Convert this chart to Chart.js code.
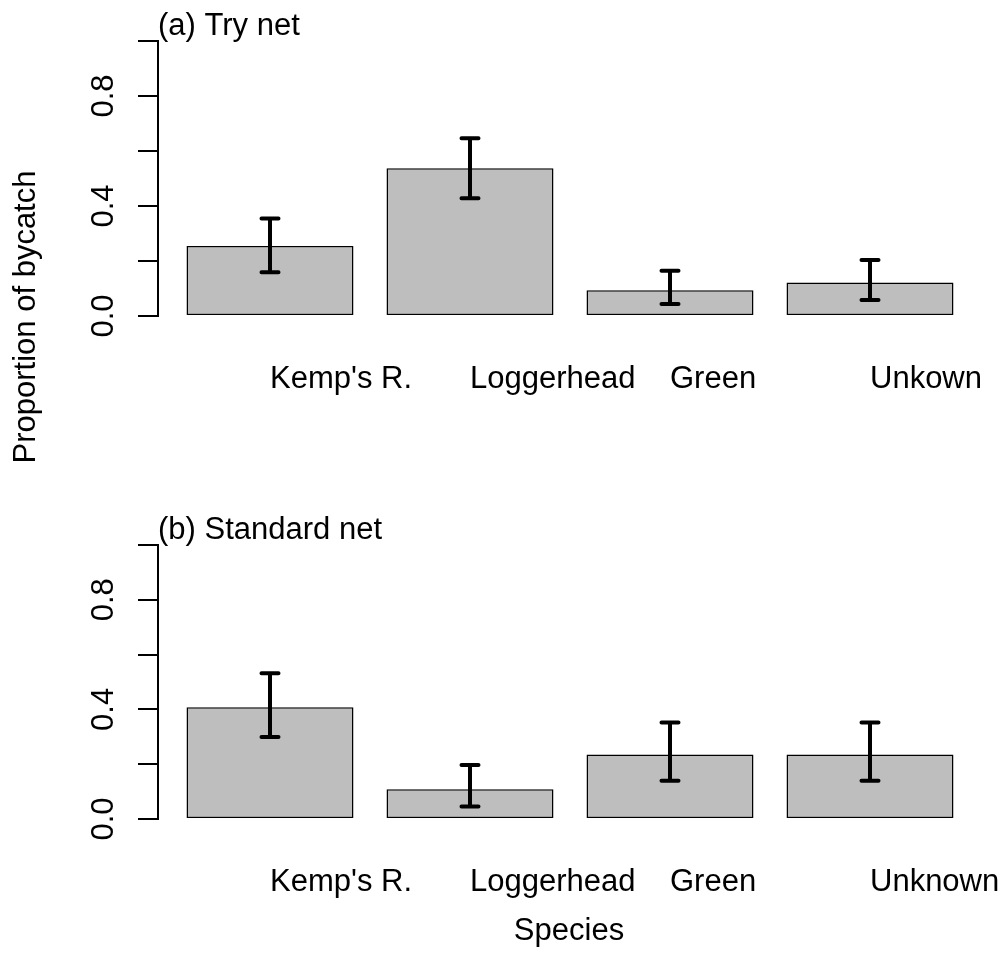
<!DOCTYPE html>
<html>
<head>
<meta charset="utf-8">
<title>Proportion of bycatch</title>
<script src="https://cdn.jsdelivr.net/npm/chart.js@4"></script>
<style>
body { margin: 0; background: #fff; }
#wrap { position: relative; width: 1002px; height: 979px; }
canvas { position: absolute; left: 0; }
#chart-try { top: 0; }
#chart-standard { top: 489px; }
</style>
</head>
<body>
<div id="wrap">
  <canvas id="chart-try" width="1002" height="490"></canvas>
  <canvas id="chart-standard" width="1002" height="490"></canvas>
</div>
<script>
// Data
const species_try = ["Kemp's R.", 'Loggerhead', 'Green', 'Unkown'];
const species_standard = ["Kemp's R.", 'Loggerhead', 'Green', 'Unknown'];

const try_prop = [0.255, 0.537, 0.094, 0.122];
const try_lower = [0.159, 0.428, 0.044, 0.058];
const try_upper = [0.355, 0.646, 0.165, 0.204];

const standard_prop = [0.408, 0.109, 0.235, 0.235];
const standard_lower = [0.299, 0.046, 0.140, 0.140];
const standard_upper = [0.532, 0.197, 0.352, 0.352];

const y_ticks = [0, 0.2, 0.4, 0.6, 0.8, 1.0];
const y_tick_labels = ['0.0', '', '0.4', '', '0.8', ''];

const font_name = '"Liberation Sans", Arial, Helvetica, sans-serif';
const text_size = 31;

// Error bars, drawn on top of the bars
function error_bars(lower, upper) {
    return {
        id: 'error_bars',
        afterDatasetsDraw(chart) {
            const ctx = chart.ctx;
            const x = chart.scales.x;
            const y = chart.scales.y;
            ctx.save();
            ctx.strokeStyle = '#000';
            ctx.lineWidth = 4;
            ctx.lineCap = 'round';
            for (var i = 0; i < lower.length; i++) {
                const px = x.getPixelForValue(i);
                const lo = y.getPixelForValue(lower[i]);
                const hi = y.getPixelForValue(upper[i]);
                ctx.beginPath();
                ctx.moveTo(px, lo);
                ctx.lineTo(px, hi);
                ctx.moveTo(px - 8.5, lo);
                ctx.lineTo(px + 8.5, lo);
                ctx.moveTo(px - 8.5, hi);
                ctx.lineTo(px + 8.5, hi);
                ctx.stroke();
            }
            ctx.restore();
        }
    };
}

// Panel title, species names, turned y tick labels (+ extra text)
function panel_text(title, names, extra) {
    return {
        id: 'panel_text',
        afterDraw(chart) {
            const ctx = chart.ctx;
            const area = chart.chartArea;
            const x = chart.scales.x;
            const y = chart.scales.y;
            ctx.save();
            ctx.fillStyle = '#000';
            ctx.font = text_size + 'px ' + font_name;
            ctx.textBaseline = 'alphabetic';

            ctx.textAlign = 'left';
            ctx.fillText(title, area.left, area.top - 6);

            // names start at the bar centre, like adj = 0
            names.forEach((name, i) => {
                ctx.fillText(name, x.getPixelForValue(i), area.bottom + 72);
            });

            ctx.textAlign = 'center';
            y_ticks.forEach((v, i) => {
                ctx.save();
                ctx.translate(area.left - 45, y.getPixelForValue(v));
                ctx.rotate(-Math.PI / 2);
                ctx.fillText(y_tick_labels[i], 0, 0);
                ctx.restore();
            });

            if (extra) extra(ctx);
            ctx.restore();
        }
    };
}

function make_chart(canvas_id, values, lower, upper, title, names, padding, extra) {
    return new Chart(document.getElementById(canvas_id), {
        type: 'bar',
        data: {
            datasets: [{
                data: values.map((v, i) => ({ x: i, y: v })),
                backgroundColor: '#bebebe',
                borderColor: '#000',
                borderWidth: 1.5,
                borderSkipped: false,
                barPercentage: 0.835,
                categoryPercentage: 1
            }]
        },
        options: {
            responsive: false,
            animation: false,
            devicePixelRatio: 1,
            layout: { padding: padding },
            plugins: {
                legend: { display: false },
                tooltip: { enabled: false }
            },
            scales: {
                x: {
                    type: 'linear',
                    min: -0.56,
                    max: 3.56,
                    offset: false,
                    display: false,
                    // one tick per species so the bar width follows the spacing
                    afterBuildTicks: function(scale) {
                        scale.ticks = names.map((n, i) => ({ value: i }));
                    }
                },
                y: {
                    min: 0,
                    max: 1,
                    afterBuildTicks: function(scale) {
                        scale.ticks = y_ticks.map(v => ({ value: v }));
                    },
                    ticks: { display: false },
                    grid: {
                        drawOnChartArea: false,
                        drawTicks: true,
                        tickLength: 20,
                        color: '#000',
                        lineWidth: 2
                    },
                    border: { display: true, color: '#000', width: 2 }
                }
            }
        },
        plugins: [error_bars(lower, upper), panel_text(title, names, extra)]
    });
}

// (a) Try net, carries the shared y title
make_chart('chart-try', try_prop, try_lower, try_upper, '(a) Try net', species_try,
    { left: 138, right: 20, top: 41, bottom: 174 },
    function(ctx) {
        ctx.save();
        ctx.translate(35, 317);
        ctx.rotate(-Math.PI / 2);
        ctx.textAlign = 'center';
        ctx.fillText('Proportion of bycatch', 0, 0);
        ctx.restore();
    });

// (b) Standard net, carries the x title
make_chart('chart-standard', standard_prop, standard_lower, standard_upper, '(b) Standard net', species_standard,
    { left: 138, right: 20, top: 56, bottom: 160 },
    function(ctx) {
        ctx.textAlign = 'center';
        ctx.fillText('Species', 569, 451);
    });
</script>
</body>
</html>
